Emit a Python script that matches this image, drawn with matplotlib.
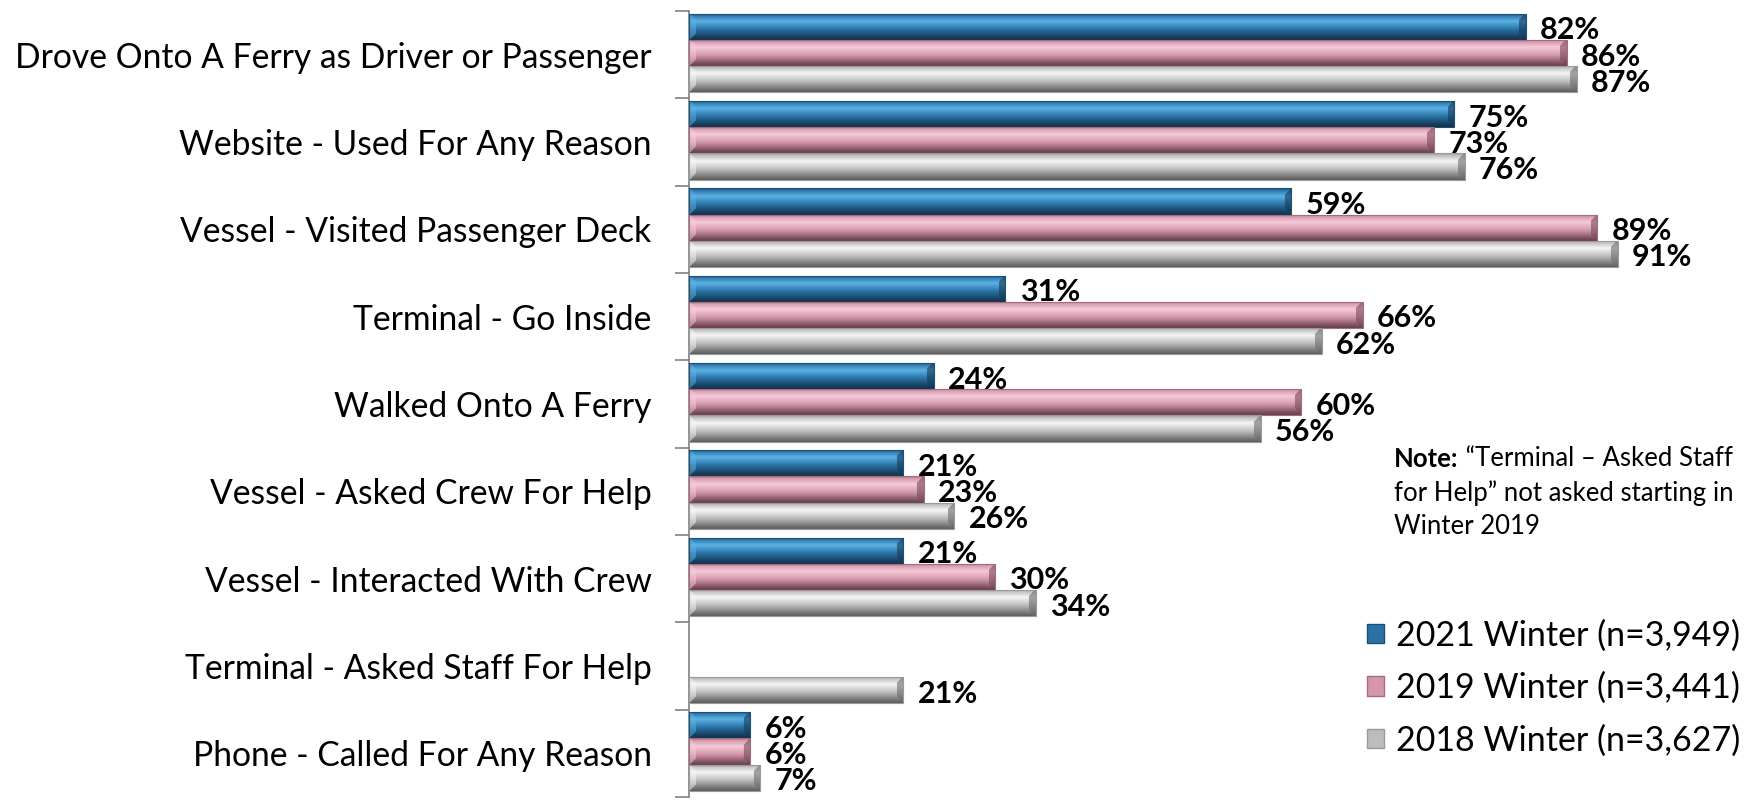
import numpy as np
import matplotlib.pyplot as plt
from matplotlib.colors import to_rgb
from matplotlib.patches import Rectangle

plt.rcParams['font.family'] = ['Lato', 'DejaVu Sans']

# survey activities, top to bottom
categories = [
    'Drove Onto A Ferry as Driver or Passenger',
    'Website - Used For Any Reason',
    'Vessel - Visited Passenger Deck',
    'Terminal - Go Inside',
    'Walked Onto A Ferry',
    'Vessel - Asked Crew For Help',
    'Vessel - Interacted With Crew',
    'Terminal - Asked Staff For Help',
    'Phone - Called For Any Reason',
]
winter_2021 = [82, 75, 59, 31, 24, 21, 21, None, 6]
winter_2019 = [86, 73, 89, 66, 60, 23, 30, None, 6]
winter_2018 = [87, 76, 91, 62, 56, 26, 34, 21, 7]
series_labels = ['2021 Winter (n=3,949)', '2019 Winter (n=3,441)', '2018 Winter (n=3,627)']

# (edge, highlight, mid, shadow) for each series
palettes = [
    ('#1d4f73', '#5cb2e6', '#2a72a6', '#153a57'),
    ('#a36c7e', '#f7cad9', '#d497ab', '#774a5a'),
    ('#9a9a9a', '#f6f6f6', '#bcbcbc', '#6c6c6c'),
]


def bevel_image(length_px, height_px, pal, b=7):
    edge, hi, mid, sh = [np.array(to_rgb(c)) for c in pal]
    nx = max(int(length_px), 2 * b + 2)
    ny = int(height_px)
    t = (np.arange(ny) + 0.5) / ny
    # vertical tube profile
    stops = [0.0, 0.08, 0.3, 0.6, 0.92, 1.0]
    cols = [edge, mid, hi, mid, sh, sh * 0.85]
    prof = np.zeros((ny, 3))
    for k in range(3):
        prof[:, k] = np.interp(t, stops, [c[k] for c in cols])
    img = np.repeat(prof[:, None, :], nx, axis=1)
    yy, xx = np.mgrid[0:ny, 0:nx]
    dt, db = yy, ny - 1 - yy
    dl, dr = xx, nx - 1 - xx
    d = np.minimum(np.minimum(dt, db), np.minimum(dl, dr))
    m_left = (dl == d) & (dl < b)
    m_right = (dr == d) & (dr < b)
    img[m_left] = 0.5 * img[m_left] + 0.5 * hi
    img[m_right] = 0.4 * img[m_right] + 0.6 * sh
    return np.clip(img, 0, 1)


fig = plt.figure(figsize=(17.55, 8), dpi=100)
ax = fig.add_axes([0.3926, 0.004, 0.5815, 0.982])

n = len(categories)
y = np.arange(n)
h = 0.3
px_per_unit = 10.2
bar_px = 0.3 * 87.3
series = [winter_2021, winter_2019, winter_2018]

for s, (vals, pal) in enumerate(zip(series, palettes)):
    pos = y + (s - 1) * h - 0.02
    v = np.array([np.nan if x is None else x for x in vals], dtype=float)
    bars = ax.barh(pos, np.nan_to_num(v), height=h, color='none',
                   edgecolor=pal[0], linewidth=0.8, zorder=3)
    for p, val, yc in zip(bars.patches, v, pos):
        if np.isnan(val):
            p.set_visible(False)
            continue
        img = bevel_image(val * px_per_unit, bar_px, pal)
        im = ax.imshow(img, extent=[0, val, yc + h / 2, yc - h / 2],
                       aspect='auto', interpolation='bilinear', zorder=2)
        im.set_clip_path(p)
        ax.text(val + 1.4, yc + 0.04, f'{val:.0f}%', ha='left', va='center',
                fontsize=22, fontweight='bold', color='black', zorder=4)

ax.set_xlim(0, 100)
ax.set_ylim(n - 0.5, -0.5)
ax.set_yticks(y)
ax.set_yticklabels(categories, fontsize=24.2)
ax.set_yticks(np.arange(n + 1) - 0.5, minor=True)
ax.tick_params(axis='y', which='major', length=0, pad=27)
ax.tick_params(axis='y', which='minor', length=10, color='#808080', width=1.2)
ax.set_xticks([])
for side in ['top', 'right', 'bottom']:
    ax.spines[side].set_visible(False)
ax.spines['left'].set_color('#808080')
ax.spines['left'].set_linewidth(1.2)

# note about the dropped question
note = fig.text(0.7945, 0.416, 'Note:', fontsize=18.5, fontweight='bold', va='baseline')
ax.annotate(' \u201cTerminal \u2013 Asked Staff', xy=(1, 0), xycoords=note,
            fontsize=18.5, va='bottom', ha='left')
fig.text(0.7945, 0.374, 'for Help\u201d not asked starting in', fontsize=18.5, va='baseline')
fig.text(0.7945, 0.332, 'Winter 2019', fontsize=18.5, va='baseline')

handles = [Rectangle((0, 0), 1, 1, facecolor=pal[2], edgecolor=pal[0]) for pal in palettes]
fig.legend(handles, series_labels, loc='upper left', bbox_to_anchor=(0.779, 0.226),
           frameon=False, fontsize=24.5, handlelength=0.5, handleheight=0.5,
           handletextpad=0.35, labelspacing=0.6, borderaxespad=0, borderpad=0)

fig.savefig('out.png', dpi=100)
